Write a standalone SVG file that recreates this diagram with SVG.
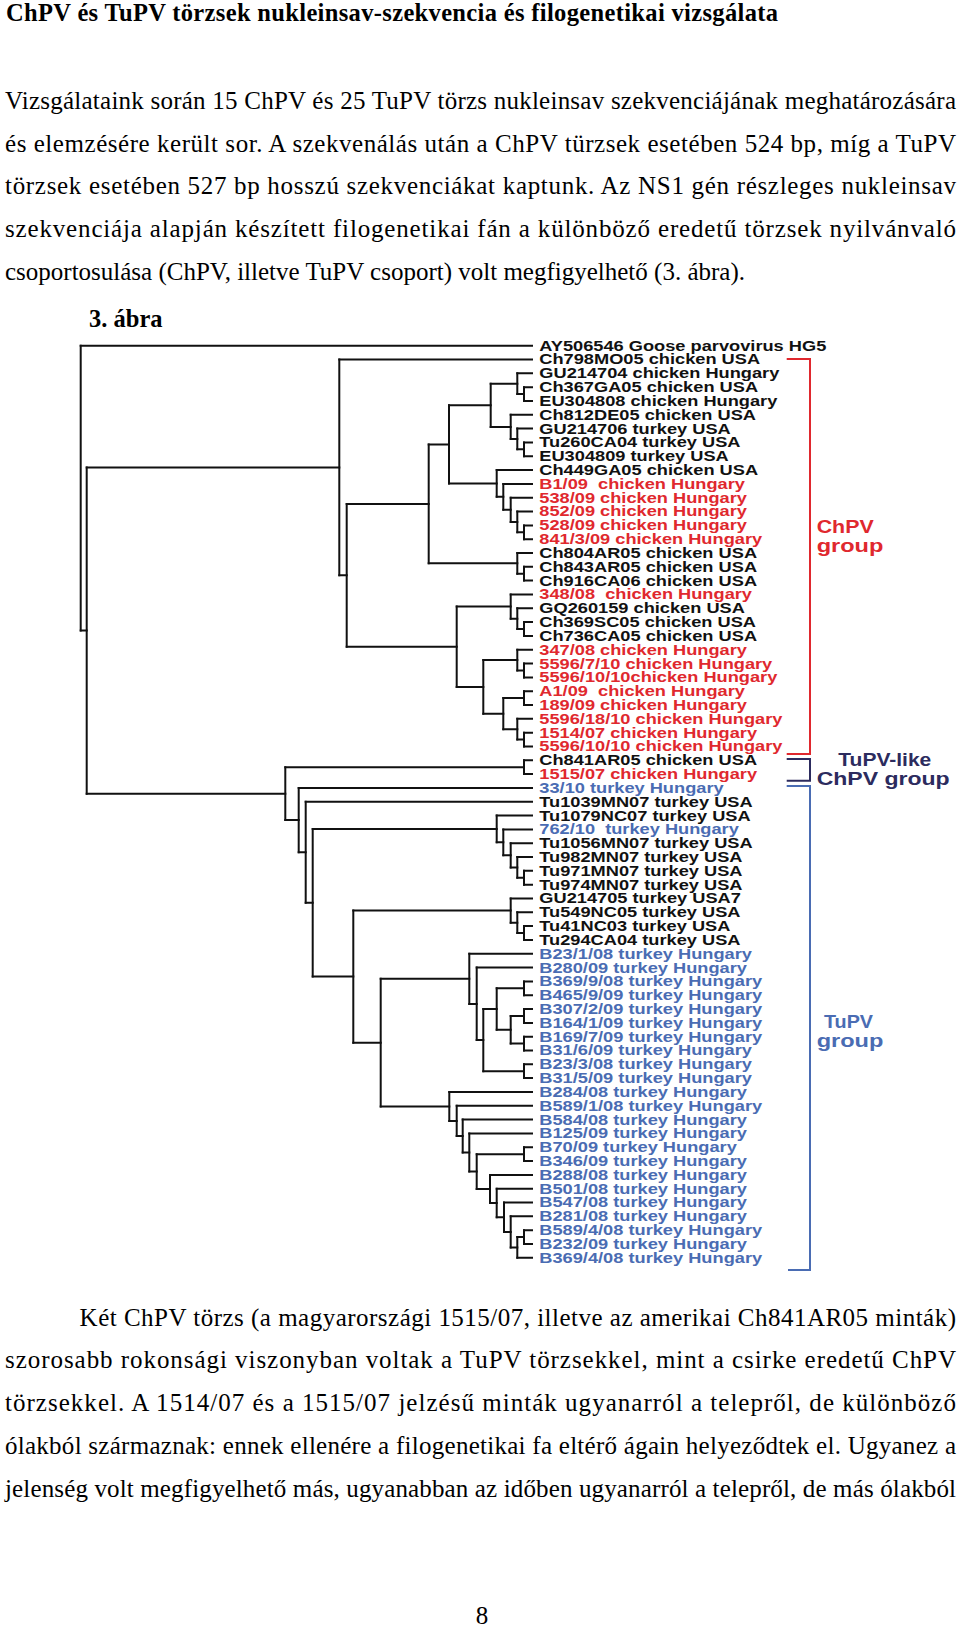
<svg xmlns="http://www.w3.org/2000/svg" width="960" height="1626" viewBox="0 0 960 1626">
<style>
.t{font-family:"Liberation Serif","Times New Roman",serif;font-size:25px;fill:#000}
.tb{font-weight:bold;font-size:24.5px}
.lb{font-family:"Liberation Sans",Arial,sans-serif;font-weight:bold;font-size:15px}
.k{fill:#111}.r{fill:#e0282e}.b{fill:#4a6cb3}.n{fill:#2c2b5e}
.grp{font-family:"Liberation Sans",Arial,sans-serif;font-weight:bold;font-size:18.5px}
.tree{fill:none;stroke:#111;stroke-width:2;stroke-linecap:square}
.br{fill:none;stroke-width:2}
</style>
<rect width="960" height="1626" fill="#fff"/>
<g id="text-top">
<text class="t tb" x="6" y="20.5" textLength="772">ChPV és TuPV törzsek nukleinsav-szekvencia és filogenetikai vizsgálata</text>
<text class="t" x="5" y="108.8" textLength="951">Vizsgálataink során 15 ChPV és 25 TuPV törzs nukleinsav szekvenciájának meghatározására</text>
<text class="t" x="5" y="151.6" textLength="951">és elemzésére került sor. A szekvenálás után a ChPV türzsek esetében 524 bp, míg a TuPV</text>
<text class="t" x="5" y="194.4" textLength="951">törzsek esetében 527 bp hosszú szekvenciákat kaptunk. Az NS1 gén részleges nukleinsav</text>
<text class="t" x="5" y="237.2" textLength="951">szekvenciája alapján készített filogenetikai fán a különböző eredetű törzsek nyilvánvaló</text>
<text class="t" x="5" y="280">csoportosulása (ChPV, illetve TuPV csoport) volt megfigyelhető (3. ábra).</text>
<text class="t tb" x="89" y="327">3. ábra</text>
</g>
<g id="connectors">
<path class="tree" d="M80.7 345.7V630.5M86.7 467.4V793.65M339.3 359.5V575.3M346.7 503.9V646.75M428.7 444.4V563.35M449 405.3V483.5M490.7 383.7V426.9M517.3 373.3V394.1M524 387.2V401M510.7 414.8V439M517.3 428.6V449.35M524 442.4V456.3M496.7 470.1V496.85M503.3 483.9V509.8M510.7 497.7V521.9M517.3 511.5V532.3M524 525.4V539.2M517.3 553V573.7M524 566.8V580.6M456.7 606.6V686.9M510.7 594.5V618.65M517.3 608.3V629M524 622.1V635.9M483.3 660.1V713.65M517.3 649.7V670.5M524 663.6V677.4M503.3 698.1V729.2M524 691.2V705M517.3 718.8V739.6M524 732.7V746.5M285.3 767.2V820.1M524 760.3V774.1M298.7 787.9V852.25M305.7 801.7V902.8M312.7 829V976.6M496.7 815.6V842.35M503.3 829.4V855.3M510.7 843.2V867.4M517.3 857V877.75M524 870.8V884.7M353.3 910.6V1042.65M510.7 898.5V922.65M517.3 912.3V933M524 926.1V939.9M380.7 978.85V1106.45M469.3 953.8V1003.9M476.7 967.6V1040.1M483.3 1009.05V1071.2M496.7 988.3V1029.8M524 981.4V995.2M510.7 1015.95V1043.6M524 1009V1022.9M524 1036.7V1050.5M524 1064.3V1078.1M449.3 1092V1120.9M456.7 1105.8V1136M462.7 1119.6V1152.45M469.3 1133.4V1171.5M476.7 1154.15V1188.9M524 1147.2V1161.1M490 1174.9V1202.95M496.7 1188.7V1217.2M504 1202.5V1231.9M510.7 1216.3V1247.45M517.3 1237.1V1257.8M524 1230.2V1244"/>
<path class="tree" d="M80.7 630.5H86.7M86.7 467.4H339.3M86.7 793.65H285.3M339.3 575.3H346.7M346.7 503.9H428.7M346.7 646.75H456.7M428.7 444.4H449M428.7 563.35H517.3M449 405.3H490.7M449 483.5H496.7M490.7 383.7H517.3M490.7 426.9H510.7M517.3 394.1H524M510.7 439H517.3M517.3 449.35H524M496.7 496.85H503.3M503.3 509.8H510.7M510.7 521.9H517.3M517.3 532.3H524M517.3 573.7H524M456.7 606.6H510.7M456.7 686.9H483.3M510.7 618.65H517.3M517.3 629H524M483.3 660.1H517.3M483.3 713.65H503.3M517.3 670.5H524M503.3 698.1H524M503.3 729.2H517.3M517.3 739.6H524M285.3 767.2H524M285.3 820.1H298.7M298.7 852.25H305.7M305.7 902.8H312.7M312.7 829H496.7M312.7 976.6H353.3M496.7 842.35H503.3M503.3 855.3H510.7M510.7 867.4H517.3M517.3 877.75H524M353.3 910.6H510.7M353.3 1042.65H380.7M510.7 922.65H517.3M517.3 933H524M380.7 978.85H469.3M380.7 1106.45H449.3M469.3 1003.9H476.7M476.7 1040.1H483.3M483.3 1009.05H496.7M483.3 1071.2H524M496.7 988.3H524M496.7 1029.8H510.7M510.7 1015.95H524M510.7 1043.6H524M449.3 1120.9H456.7M456.7 1136H462.7M462.7 1152.45H469.3M469.3 1171.5H476.7M476.7 1154.15H524M476.7 1188.9H490M490 1202.95H496.7M496.7 1217.2H504M504 1231.9H510.7M510.7 1247.45H517.3M517.3 1237.1H524"/>
<path class="tree" d="M80.7 345.7H532M339.3 359.5H532M517.3 373.3H532M524 387.2H532M524 401H532M510.7 414.8H532M517.3 428.6H532M524 442.4H532M524 456.3H532M496.7 470.1H532M503.3 483.9H532M510.7 497.7H532M517.3 511.5H532M524 525.4H532M524 539.2H532M517.3 553H532M524 566.8H532M524 580.6H532M510.7 594.5H532M517.3 608.3H532M524 622.1H532M524 635.9H532M517.3 649.7H532M524 663.6H532M524 677.4H532M524 691.2H532M524 705H532M517.3 718.8H532M524 732.7H532M524 746.5H532M524 760.3H532M524 774.1H532M298.7 787.9H532M305.7 801.7H532M496.7 815.6H532M503.3 829.4H532M510.7 843.2H532M517.3 857H532M524 870.8H532M524 884.7H532M510.7 898.5H532M517.3 912.3H532M524 926.1H532M524 939.9H532M469.3 953.8H532M476.7 967.6H532M524 981.4H532M524 995.2H532M524 1009H532M524 1022.9H532M524 1036.7H532M524 1050.5H532M524 1064.3H532M524 1078.1H532M449.3 1092H532M456.7 1105.8H532M462.7 1119.6H532M469.3 1133.4H532M524 1147.2H532M524 1161.1H532M490 1174.9H532M496.7 1188.7H532M504 1202.5H532M510.7 1216.3H532M524 1230.2H532M524 1244H532M517.3 1257.8H532"/>
<path class="br" stroke="#e0282e" d="M786.7 359H810V754H786.7"/>
<path class="br" stroke="#2c2b5e" d="M786.7 759H810V780.7H786.7"/>
<path class="br" stroke="#4a6cb3" d="M786.7 786H810V1270H788"/>
</g>
<g id="leaves" class="lb" transform="translate(539.3 0) scale(1.215 1)">
<g id="n1"><text class="k" y="350.7">AY506546 Goose parvovirus HG5</text></g>
<g id="n2"><text class="k" y="364.5">Ch798MO05 chicken USA</text></g>
<g id="n3"><text class="k" y="378.3">GU214704 chicken Hungary</text></g>
<g id="n4"><text class="k" y="392.2">Ch367GA05 chicken USA</text></g>
<g id="n5"><text class="k" y="406">EU304808 chicken Hungary</text></g>
<g id="n6"><text class="k" y="419.8">Ch812DE05 chicken USA</text></g>
<g id="n7"><text class="k" y="433.6">GU214706 turkey USA</text></g>
<g id="n8"><text class="k" y="447.4">Tu260CA04 turkey USA</text></g>
<g id="n9"><text class="k" y="461.3">EU304809 turkey USA</text></g>
<g id="n10"><text class="k" y="475.1">Ch449GA05 chicken USA</text></g>
<g id="n11"><text class="r" y="488.9">B1/09&#160; chicken Hungary</text></g>
<g id="n12"><text class="r" y="502.7">538/09 chicken Hungary</text></g>
<g id="n13"><text class="r" y="516.5">852/09 chicken Hungary</text></g>
<g id="n14"><text class="r" y="530.4">528/09 chicken Hungary</text></g>
<g id="n15"><text class="r" y="544.2">841/3/09 chicken Hungary</text></g>
<g id="n16"><text class="k" y="558">Ch804AR05 chicken USA</text></g>
<g id="n17"><text class="k" y="571.8">Ch843AR05 chicken USA</text></g>
<g id="n18"><text class="k" y="585.6">Ch916CA06 chicken USA</text></g>
<g id="n19"><text class="r" y="599.5">348/08&#160; chicken Hungary</text></g>
<g id="n20"><text class="k" y="613.3">GQ260159 chicken USA</text></g>
<g id="n21"><text class="k" y="627.1">Ch369SC05 chicken USA</text></g>
<g id="n22"><text class="k" y="640.9">Ch736CA05 chicken USA</text></g>
<g id="n23"><text class="r" y="654.7">347/08 chicken Hungary</text></g>
<g id="n24"><text class="r" y="668.6">5596/7/10 chicken Hungary</text></g>
<g id="n25"><text class="r" y="682.4">5596/10/10chicken Hungary</text></g>
<g id="n26"><text class="r" y="696.2">A1/09&#160; chicken Hungary</text></g>
<g id="n27"><text class="r" y="710">189/09 chicken Hungary</text></g>
<g id="n28"><text class="r" y="723.8">5596/18/10 chicken Hungary</text></g>
<g id="n29"><text class="r" y="737.7">1514/07 chicken Hungary</text></g>
<g id="n30"><text class="r" y="751.5">5596/10/10 chicken Hungary</text></g>
<g id="n31"><text class="k" y="765.3">Ch841AR05 chicken USA</text></g>
<g id="n32"><text class="r" y="779.1">1515/07 chicken Hungary</text></g>
<g id="n33"><text class="b" y="792.9">33/10 turkey Hungary</text></g>
<g id="n34"><text class="k" y="806.7">Tu1039MN07 turkey USA</text></g>
<g id="n35"><text class="k" y="820.6">Tu1079NC07 turkey USA</text></g>
<g id="n36"><text class="b" y="834.4">762/10&#160; turkey Hungary</text></g>
<g id="n37"><text class="k" y="848.2">Tu1056MN07 turkey USA</text></g>
<g id="n38"><text class="k" y="862">Tu982MN07 turkey USA</text></g>
<g id="n39"><text class="k" y="875.8">Tu971MN07 turkey USA</text></g>
<g id="n40"><text class="k" y="889.7">Tu974MN07 turkey USA</text></g>
<g id="n41"><text class="k" y="903.5">GU214705 turkey USA7</text></g>
<g id="n42"><text class="k" y="917.3">Tu549NC05 turkey USA</text></g>
<g id="n43"><text class="k" y="931.1">Tu41NC03 turkey USA</text></g>
<g id="n44"><text class="k" y="944.9">Tu294CA04 turkey USA</text></g>
<g id="n45"><text class="b" y="958.8">B23/1/08 turkey Hungary</text></g>
<g id="n46"><text class="b" y="972.6">B280/09 turkey Hungary</text></g>
<g id="n47"><text class="b" y="986.4">B369/9/08 turkey Hungary</text></g>
<g id="n48"><text class="b" y="1000.2">B465/9/09 turkey Hungary</text></g>
<g id="n49"><text class="b" y="1014">B307/2/09 turkey Hungary</text></g>
<g id="n50"><text class="b" y="1027.9">B164/1/09 turkey Hungary</text></g>
<g id="n51"><text class="b" y="1041.7">B169/7/09 turkey Hungary</text></g>
<g id="n52"><text class="b" y="1055.5">B31/6/09 turkey Hungary</text></g>
<g id="n53"><text class="b" y="1069.3">B23/3/08 turkey Hungary</text></g>
<g id="n54"><text class="b" y="1083.1">B31/5/09 turkey Hungary</text></g>
<g id="n55"><text class="b" y="1097">B284/08 turkey Hungary</text></g>
<g id="n56"><text class="b" y="1110.8">B589/1/08 turkey Hungary</text></g>
<g id="n57"><text class="b" y="1124.6">B584/08 turkey Hungary</text></g>
<g id="n58"><text class="b" y="1138.4">B125/09 turkey Hungary</text></g>
<g id="n59"><text class="b" y="1152.2">B70/09 turkey Hungary</text></g>
<g id="n60"><text class="b" y="1166.1">B346/09 turkey Hungary</text></g>
<g id="n61"><text class="b" y="1179.9">B288/08 turkey Hungary</text></g>
<g id="n62"><text class="b" y="1193.7">B501/08 turkey Hungary</text></g>
<g id="n63"><text class="b" y="1207.5">B547/08 turkey Hungary</text></g>
<g id="n64"><text class="b" y="1221.3">B281/08 turkey Hungary</text></g>
<g id="n65"><text class="b" y="1235.2">B589/4/08 turkey Hungary</text></g>
<g id="n66"><text class="b" y="1249">B232/09 turkey Hungary</text></g>
<g id="n67"><text class="b" y="1262.8">B369/4/08 turkey Hungary</text></g>
</g>
<g id="group-chpv" class="grp r">
<text x="816.7" y="532.7" textLength="57" lengthAdjust="spacingAndGlyphs">ChPV</text>
<text x="816.7" y="551.5" textLength="66.7" lengthAdjust="spacingAndGlyphs">group</text>
</g>
<g id="group-tupv-like" class="grp n">
<text x="838.3" y="766" textLength="93" lengthAdjust="spacingAndGlyphs">TuPV-like</text>
<text x="816.7" y="785" textLength="133" lengthAdjust="spacingAndGlyphs">ChPV group</text>
</g>
<g id="group-tupv" class="grp b">
<text x="824" y="1028.3" textLength="49" lengthAdjust="spacingAndGlyphs">TuPV</text>
<text x="816.7" y="1046.7" textLength="66.7" lengthAdjust="spacingAndGlyphs">group</text>
</g>
<g id="text-bottom">
<text class="t" x="79.6" y="1325.5" textLength="876.4">Két ChPV törzs (a magyarországi 1515/07, illetve az amerikai Ch841AR05 minták)</text>
<text class="t" x="5" y="1368.2" textLength="951">szorosabb rokonsági viszonyban voltak a TuPV törzsekkel, mint a csirke eredetű ChPV</text>
<text class="t" x="5" y="1411" textLength="951">törzsekkel. A 1514/07 és a 1515/07 jelzésű minták ugyanarról a telepről, de különböző</text>
<text class="t" x="5" y="1453.8" textLength="951">ólakból származnak: ennek ellenére a filogenetikai fa eltérő ágain helyeződtek el. Ugyanez a</text>
<text class="t" x="5" y="1496.5" textLength="951">jelenség volt megfigyelhető más, ugyanabban az időben ugyanarról a telepről, de más ólakból</text>
<text class="t" x="482" y="1624" text-anchor="middle">8</text>
</g>
</svg>
